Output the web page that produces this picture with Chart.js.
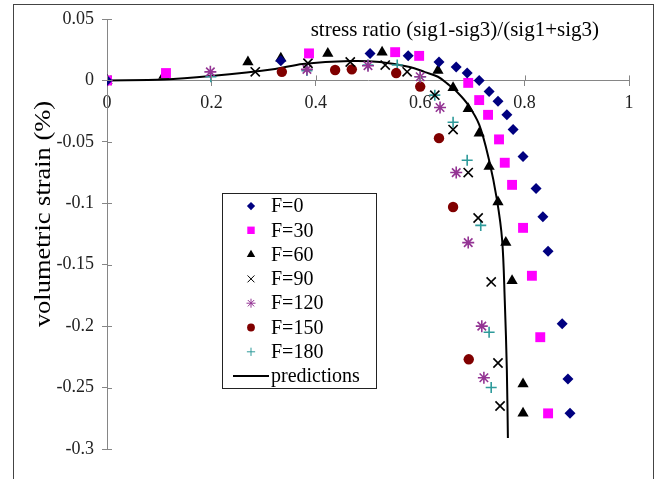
<!DOCTYPE html>
<html>
<head>
<meta charset="utf-8">
<script src="https://cdn.jsdelivr.net/npm/chart.js@4.4.1/dist/chart.umd.min.js"></script>
<style>
  html, body { margin: 0; padding: 0; background: #fff; }
  #wrap { position: relative; width: 661px; height: 479px; overflow: hidden; }
  #frame { position: absolute; left: 13px; top: 4px; width: 641px; height: 490px; border: 1px solid #444; box-sizing: border-box; pointer-events: none; }
  canvas { position: absolute; left: 0; top: 0; }
</style>
</head>
<body>
<div id="wrap">
  <canvas id="chart" width="661" height="479"></canvas>
  <div id="frame"></div>
</div>
<script>
// axis ticks
const xTickValues = [0, 0.2, 0.4, 0.6, 0.8, 1];
const xTickLabels = ["0", "0.2", "0.4", "0.6", "0.8", "1"];
const yTickValues = [-0.3, -0.25, -0.2, -0.15, -0.1, -0.05, 0, 0.05];
const yTickLabels = ["-0.3", "-0.25", "-0.2", "-0.15", "-0.1", "-0.05", "0", "0.05"];

const xTitle = "stress ratio (sig1-sig3)/(sig1+sig3)";
const yTitle = "volumetric strain (%)";

// measured series (stress ratio, volumetric strain)
const f0X = [0, 0.333, 0.504, 0.577, 0.636, 0.669, 0.690, 0.713, 0.732, 0.749, 0.766, 0.778, 0.797, 0.822, 0.835, 0.845, 0.872, 0.883, 0.887];
const f0Y = [0, 0.016, 0.022, 0.020, 0.015, 0.011, 0.006, 0.000, -0.009, -0.017, -0.028, -0.040, -0.062, -0.088, -0.111, -0.139, -0.198, -0.243, -0.271];

const f30X = [0, 0.113, 0.387, 0.552, 0.598, 0.692, 0.713, 0.730, 0.751, 0.762, 0.776, 0.797, 0.814, 0.830, 0.845];
const f30Y = [0, 0.006, 0.022, 0.023, 0.020, -0.002, -0.016, -0.028, -0.048, -0.067, -0.085, -0.120, -0.159, -0.209, -0.271];

const f60X = [0, 0.109, 0.270, 0.333, 0.423, 0.527, 0.634, 0.663, 0.692, 0.713, 0.732, 0.749, 0.764, 0.776, 0.797, 0.797];
const f60Y = [0, 0.004, 0.015, 0.018, 0.022, 0.023, 0.008, -0.006, -0.023, -0.043, -0.070, -0.099, -0.132, -0.163, -0.247, -0.271];

const f90X = [0, 0.284, 0.385, 0.466, 0.533, 0.575, 0.628, 0.663, 0.692, 0.711, 0.736, 0.749, 0.753];
const f90Y = [0, 0.007, 0.014, 0.015, 0.0125, 0.007, -0.012, -0.040, -0.075, -0.112, -0.164, -0.230, -0.265];

const f120X = [0, 0.198, 0.383, 0.500, 0.600, 0.638, 0.669, 0.692, 0.718, 0.722];
const f120Y = [0, 0.007, 0.009, 0.012, 0.003, -0.022, -0.075, -0.132, -0.200, -0.242];

const f150X = [0, 0.335, 0.437, 0.469, 0.554, 0.600, 0.636, 0.663, 0.693];
const f150Y = [0, 0.007, 0.0085, 0.009, 0.006, -0.005, -0.047, -0.103, -0.227];

const f180X = [0, 0.199, 0.383, 0.500, 0.556, 0.600, 0.628, 0.663, 0.690, 0.716, 0.732, 0.736];
const f180Y = [0, 0.003, 0.008, 0.0125, 0.0125, 0.003, -0.012, -0.034, -0.065, -0.118, -0.205, -0.250];

// model curve
const predX = [0, 0.109, 0.199, 0.322, 0.375, 0.466, 0.523, 0.580, 0.609, 0.634, 0.653, 0.672, 0.692, 0.713, 0.732, 0.747, 0.757, 0.762, 0.766, 0.768];
const predY = [0, 0.0007, 0.0036, 0.0093, 0.0134, 0.0158, 0.015, 0.011, 0.0068, 0.003, -0.003, -0.010, -0.020, -0.036, -0.065, -0.097, -0.130, -0.179, -0.236, -0.291];

const serif = "'Liberation Serif', 'DejaVu Serif', serif";

function toPoints(xs, ys) {
  return xs.map((x, i) => ({ x: x, y: ys[i] }));
}

function markerSet(label, xs, ys, style, color, radius, filled) {
  return {
    label: label,
    data: toPoints(xs, ys),
    pointStyle: style,
    pointRadius: radius,
    pointHoverRadius: radius,
    backgroundColor: filled ? color : "transparent",
    borderColor: color,
    pointBorderWidth: filled ? 0 : 1.6,
    borderWidth: filled ? 0 : 1.6,
    showLine: false,
  };
}

// legend drawn inside the plot, like the spreadsheet original
const legendBox = { left: 222, top: 193, width: 154, height: 195, row: 24.3 };

const insideLegend = {
  id: "insideLegend",
  afterDraw(chart) {
    const ctx = chart.ctx;
    const b = legendBox;
    ctx.save();
    ctx.fillStyle = "#fff";
    ctx.fillRect(b.left, b.top, b.width, b.height);
    ctx.strokeStyle = "#222";
    ctx.lineWidth = 1;
    ctx.strokeRect(b.left + 0.5, b.top + 0.5, b.width, b.height);
    ctx.font = "20px " + serif;
    ctx.textBaseline = "middle";
    ctx.textAlign = "left";
    chart.data.datasets.forEach((ds, i) => {
      const y = b.top + 13 + i * b.row;
      if (ds.showLine) {
        ctx.strokeStyle = ds.borderColor;
        ctx.lineWidth = 2;
        ctx.beginPath();
        ctx.moveTo(b.left + 11, y);
        ctx.lineTo(b.left + 47, y);
        ctx.stroke();
      } else {
        ctx.fillStyle = ds.backgroundColor;
        ctx.strokeStyle = ds.borderColor;
        ctx.lineWidth = ds.pointBorderWidth ? 1 : 1;
        Chart.helpers.drawPoint(ctx, {
          pointStyle: ds.pointStyle,
          radius: ds.pointRadius * 0.75,
          rotation: 0,
          borderWidth: ds.pointBorderWidth ? 1 : 0,
        }, b.left + 29, y);
      }
      ctx.fillStyle = "#000";
      ctx.fillText(ds.label, b.left + 49, y + 1);
    });
    ctx.restore();
  },
};

// axis titles and the cross-style tick marks
const axisExtras = {
  id: "axisExtras",
  afterDraw(chart) {
    const ctx = chart.ctx;
    const xs = chart.scales.x;
    const ys = chart.scales.y;
    const y0 = ys.getPixelForValue(0);
    const area = chart.chartArea;
    ctx.save();
    ctx.strokeStyle = "#868686";
    ctx.lineWidth = 1;
    ctx.beginPath();
    xs.ticks.forEach((t) => {
      const px = Math.round(xs.getPixelForValue(t.value)) + 0.5;
      ctx.moveTo(px, y0 - 5);
      ctx.lineTo(px, y0);
    });
    ys.ticks.forEach((t) => {
      const py = Math.round(ys.getPixelForValue(t.value)) + 0.5;
      ctx.moveTo(area.left, py);
      ctx.lineTo(area.left + 5, py);
    });
    ctx.stroke();

    ctx.fillStyle = "#000";
    ctx.font = "21px " + serif;
    ctx.textBaseline = "middle";
    ctx.textAlign = "right";
    ctx.fillText(xTitle, area.right - 30, area.top + 11);

    // y title is a bit stretched along its length in the original
    ctx.translate(44, 214);
    ctx.rotate(-Math.PI / 2);
    ctx.scale(1.15, 1);
    ctx.font = "23px " + serif;
    ctx.textAlign = "center";
    ctx.fillText(yTitle, 0, 0);
    ctx.restore();
  },
};

const ctx = document.getElementById("chart");

new Chart(ctx, {
  type: "scatter",
  data: {
    datasets: [
      markerSet("F=0", f0X, f0Y, "rectRot", "#000080", 5.5, true),
      markerSet("F=30", f30X, f30Y, "rect", "#ff00ff", 7, true),
      markerSet("F=60", f60X, f60Y, "triangle", "#000000", 6.5, true),
      markerSet("F=90", f90X, f90Y, "crossRot", "#000000", 6.5, false),
      markerSet("F=120", f120X, f120Y, "star", "#943594", 6, false),
      markerSet("F=150", f150X, f150Y, "circle", "#800000", 5.2, true),
      markerSet("F=180", f180X, f180Y, "cross", "#2f9b9b", 5.5, false),
      {
        label: "predictions",
        data: toPoints(predX, predY),
        showLine: true,
        borderColor: "#000000",
        backgroundColor: "#000000",
        borderWidth: 2,
        pointRadius: 0,
        pointHoverRadius: 0,
        tension: 0.35,
      },
    ],
  },
  options: {
    responsive: false,
    animation: false,
    layout: {
      padding: { left: 0, top: 19, right: 32, bottom: 30 },
    },
    plugins: {
      legend: { display: false },
      tooltip: { enabled: false },
    },
    scales: {
      x: {
        type: "linear",
        position: { y: 0 },
        min: 0,
        max: 1,
        afterBuildTicks: (s) => { s.ticks = xTickValues.map((v) => ({ value: v })); },
        ticks: {
          autoSkip: false,
          maxRotation: 0,
          padding: 7,
          color: "#222",
          font: { family: serif, size: 18 },
          callback: (v, i) => xTickLabels[i],
        },
        grid: { drawOnChartArea: false, tickLength: 5, color: "#868686" },
        border: { color: "#868686" },
      },
      y: {
        type: "linear",
        min: -0.3,
        max: 0.05,
        afterBuildTicks: (s) => { s.ticks = yTickValues.map((v) => ({ value: v })); },
        afterFit: (s) => { s.width = 107; },
        ticks: {
          autoSkip: false,
          padding: 8,
          color: "#222",
          font: { family: serif, size: 18 },
          callback: (v, i) => yTickLabels[i],
        },
        grid: { drawOnChartArea: false, tickLength: 5, color: "#868686" },
        border: { color: "#868686" },
      },
    },
  },
  plugins: [axisExtras, insideLegend],
});
</script>
</body>
</html>
